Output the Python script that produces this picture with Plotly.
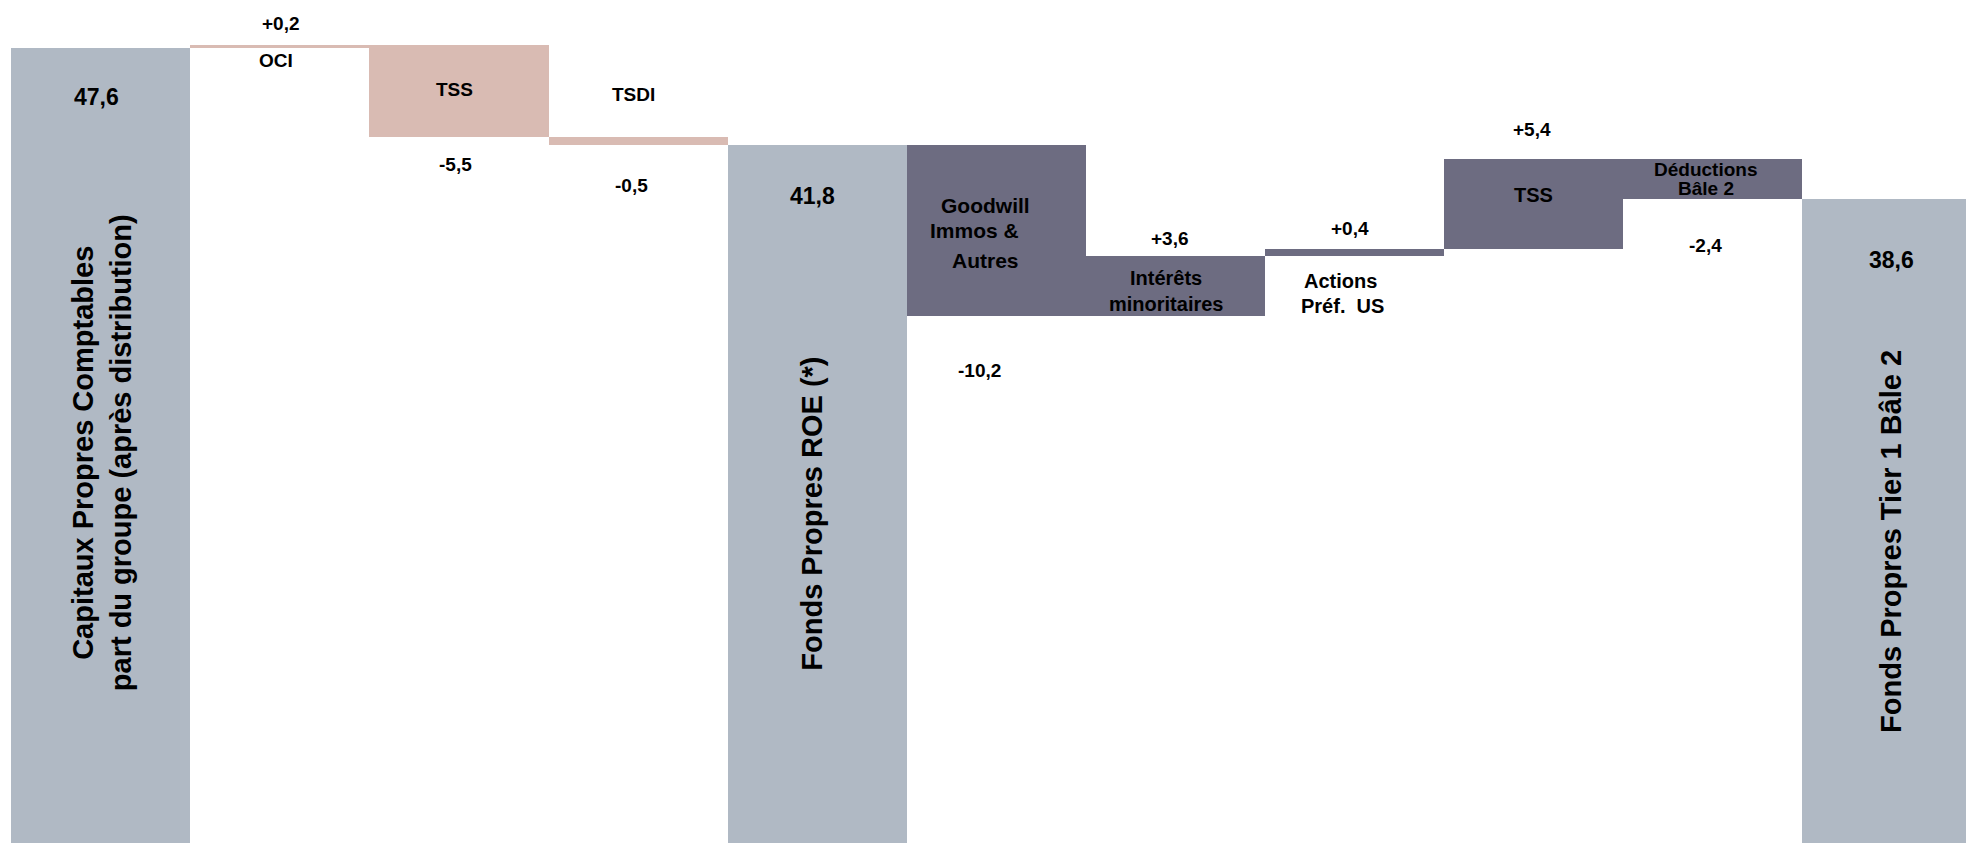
import plotly.graph_objects as go

# ---- data ----
categories = [
    "Capitaux Propres Comptables<br>part du groupe (après distribution)",
    "OCI", "TSS", "TSDI",
    "Fonds Propres ROE (*)",
    "Goodwill<br>Immos &<br>Autres",
    "Intérêts<br>minoritaires",
    "Actions<br>Préf.  US",
    "TSS",
    "Déductions<br>Bâle 2",
    "Fonds Propres Tier 1 Bâle 2",
]
values = [47.6, 0.2, -5.5, -0.5, 41.8, -10.2, 3.6, 0.4, 5.4, -2.4, 38.6]
measures = ["total", "relative", "relative", "relative", "total",
            "relative", "relative", "relative", "relative", "relative", "total"]
groups = ["total", "s1", "s1", "s1", "total", "s2", "s2", "s2", "s2", "s2", "total"]

# ---- styles ----
group_colors = {"total": "#B0B9C4", "s1": "#D9BBB3", "s2": "#6D6C81"}
FONT = "Liberation Sans, Arial, sans-serif"

# ---- waterfall geometry from data ----
bases, heights, tops, bottoms = [], [], [], []
running = 0.0
for v, m in zip(values, measures):
    if m == "total":
        b, h = 0.0, v
        running = v
    else:
        b = running if v >= 0 else running + v
        h = abs(v)
        running += v
    bases.append(b)
    heights.append(h)
    bottoms.append(b)
    tops.append(b + h)

xs = list(range(len(values)))

fig = go.Figure()
fig.add_trace(go.Bar(
    x=xs, y=heights, base=bases, width=1.0,
    marker=dict(color=[group_colors[g] for g in groups], line=dict(width=0)),
    hoverinfo="skip", showlegend=False,
))


def fmt(v, signed):
    s = f"{abs(v):.1f}".replace(".", ",")
    if signed:
        return ("+" if v >= 0 else "-") + s
    return s


annotations = []


def add(text, col, anchor, dx, dy, size, angle=0):
    annotations.append(dict(
        x=col, y=anchor, xref="x", yref="y", text=text, showarrow=False,
        xshift=dx, yshift=dy, textangle=angle, xanchor="center", yanchor="middle",
        borderpad=0,
        font=dict(family=FONT, size=size, color="#000000", weight="bold"),
    ))


# value labels
val_txt = [fmt(v, m == "relative") for v, m in zip(values, measures)]
# totals
add(val_txt[0], 0, tops[0], -4, -49, 23)
add(val_txt[4], 4, tops[4], -5, -51, 23)
add(val_txt[10], 10, tops[10], 0, -61, 23)
# section 1
add(val_txt[1], 1, tops[1], 1, 22, 19)
add(val_txt[2], 2, bottoms[2], -4, -27, 19)
add(val_txt[3], 3, bottoms[3], -7, -40, 19)
# section 2
add(val_txt[5], 5, bottoms[5], -17, -54, 19)
add(val_txt[6], 6, tops[6], -5, 17, 19)
add(val_txt[7], 7, tops[7], -5, 21, 19)
add(val_txt[8], 8, tops[8], -2, 29, 19)
add(val_txt[9], 9, bottoms[9], -7, -46, 19)

# category labels
add(categories[0], 0, tops[0], 2, -404, 29, -90)
add(categories[4], 4, tops[4], -5, -368, 29, -90)
add(categories[10], 10, tops[10], -1, -342, 29, -90)
add(categories[1], 1, tops[0], -4, -12, 19)
add(categories[2], 2, tops[2], -5, -44, 19)
add(categories[3], 3, bottoms[2], -5, 43, 19)
g = categories[5].split("<br>")
add(g[0], 5, tops[5], -11, -60, 21)
add(g[1], 5, tops[5], -22, -85, 21)
add(g[2], 5, tops[5], -11, -115, 21)
im = categories[6].split("<br>")
add(im[0], 6, tops[6], -9, -22, 20)
add(im[1], 6, tops[6], -9, -48, 20)
ac = categories[7].split("<br>")
add(ac[0], 7, bottoms[7], -14, -25, 20)
add(ac[1], 7, bottoms[7], -12, -50, 20)
add(categories[8], 8, tops[8], 0, -36, 20)
de = categories[9].split("<br>")
add(de[0], 9, tops[9], -7, -11, 19)
add(de[1], 9, tops[9], -7, -30, 19)

fig.update_layout(
    width=1966, height=843,
    margin=dict(l=0, r=0, t=0, b=0, pad=0),
    paper_bgcolor="#FFFFFF", plot_bgcolor="#FFFFFF",
    bargap=0,
    xaxis=dict(range=[-0.563, 10.414], visible=False, fixedrange=True),
    yaxis=dict(range=[0.13, 50.49], visible=False, fixedrange=True),
    annotations=annotations,
    showlegend=False,
)

fig.write_html("out.html", config={"displayModeBar": False},
               post_script="document.body.style.margin='0';")
